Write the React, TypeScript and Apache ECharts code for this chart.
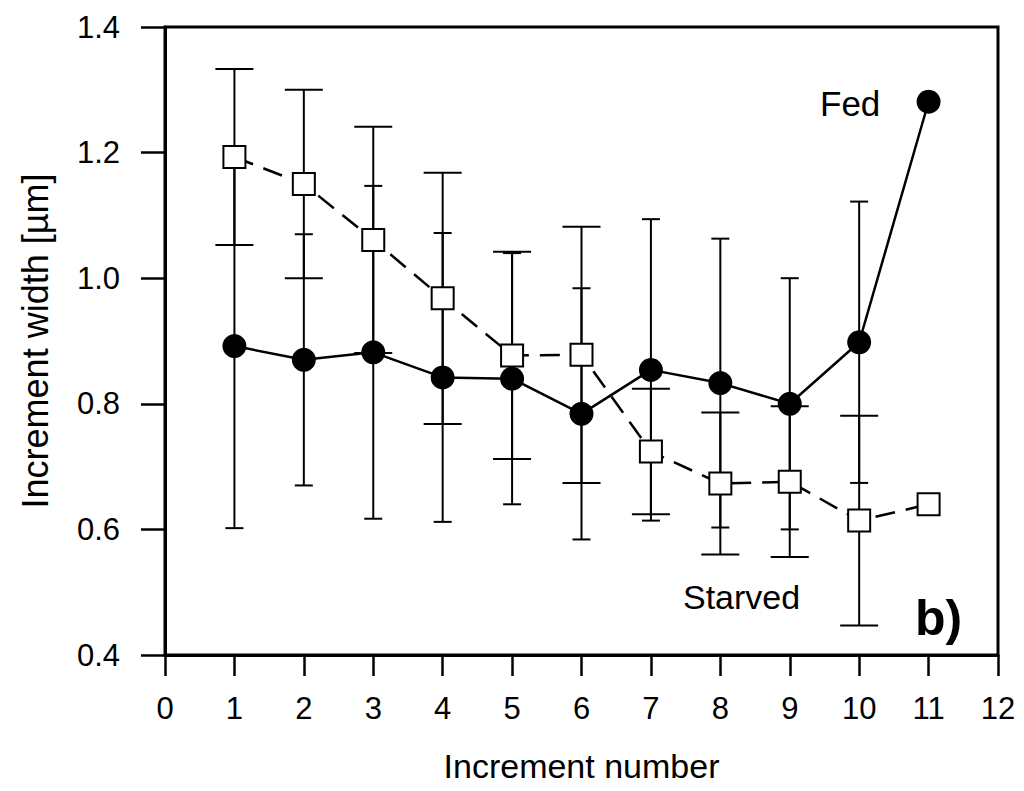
import React, { useEffect, useRef } from "react";
import * as echarts from "echarts";

const increments = [1, 2, 3, 4, 5, 6, 7, 8, 9, 10, 11];
const fedMean = [0.892, 0.870, 0.882, 0.842, 0.840, 0.784, 0.854, 0.833, 0.800, 0.898, 1.281];
const fedErr = [0.29, 0.20, 0.265, 0.23, 0.20, 0.20, 0.24, 0.23, 0.20, 0.224, null];
const starvedMean = [1.193, 1.150, 1.061, 0.968, 0.877, 0.878, 0.724, 0.673, 0.676, 0.614, 0.640];
const starvedErr = [0.14, 0.15, 0.18, 0.20, 0.165, 0.204, 0.10, 0.113, 0.12, 0.167, null];
const xTicks = [0, 1, 2, 3, 4, 5, 6, 7, 8, 9, 10, 11, 12];
const yTicks = [0.4, 0.6, 0.8, 1.0, 1.2, 1.4];

const FONT = "'Liberation Sans', Arial, sans-serif";

function errData(means: number[], errs: (number | null)[]) {
  const out: number[][] = [];
  means.forEach((m, i) => {
    const e = errs[i];
    if (e != null) out.push([increments[i], m - e, m + e]);
  });
  return out;
}

function errRender(capHalf: number) {
  return (params: any, api: any) => {
    const x = api.value(0);
    const lo = api.coord([x, api.value(1)]);
    const hi = api.coord([x, api.value(2)]);
    const style = { stroke: "#000", lineWidth: 2 };
    return {
      type: "group",
      children: [
        { type: "line", shape: { x1: lo[0], y1: lo[1], x2: hi[0], y2: hi[1] }, style },
        { type: "line", shape: { x1: hi[0] - capHalf, y1: hi[1], x2: hi[0] + capHalf, y2: hi[1] }, style },
        { type: "line", shape: { x1: lo[0] - capHalf, y1: lo[1], x2: lo[0] + capHalf, y2: lo[1] }, style },
      ],
    };
  };
}

export default function App() {
  const ref = useRef<HTMLDivElement>(null);
  useEffect(() => {
    if (!ref.current) return;
    const chart = echarts.init(ref.current, undefined, { renderer: "svg" });
    chart.setOption({
      animation: false,
      backgroundColor: "#fff",
      grid: {
        left: 165,
        right: 26,
        top: 27,
        bottom: 136,
        show: true,
        borderColor: "#000",
        borderWidth: 3,
        outerBoundsMode: "none",
      },
      xAxis: {
        type: "value",
        min: xTicks[0],
        max: xTicks[xTicks.length - 1],
        interval: 1,
        name: "Increment number",
        nameLocation: "middle",
        nameGap: 94,
        nameTextStyle: { fontFamily: FONT, fontSize: 34, color: "#000" },
        axisLine: { lineStyle: { color: "#000", width: 3 } },
        axisTick: { inside: false, length: 21, lineStyle: { color: "#000", width: 2.5 } },
        axisLabel: { fontFamily: FONT, fontSize: 31, color: "#000", margin: 38 },
        splitLine: { show: false },
      },
      yAxis: {
        type: "value",
        min: yTicks[0],
        max: yTicks[yTicks.length - 1],
        interval: 0.2,
        name: "Increment width [µm]",
        nameLocation: "middle",
        nameGap: 112,
        nameTextStyle: { fontFamily: FONT, fontSize: 36, color: "#000" },
        axisLine: { lineStyle: { color: "#000", width: 3 } },
        axisTick: { inside: false, length: 24, lineStyle: { color: "#000", width: 2.5 } },
        axisLabel: {
          fontFamily: FONT,
          fontSize: 31,
          color: "#000",
          margin: 45,
          formatter: (v: number) => v.toFixed(1),
        },
        splitLine: { show: false },
      },
      series: [
        {
          type: "custom",
          name: "starvedErr",
          renderItem: errRender(19),
          data: errData(starvedMean, starvedErr),
          z: 1,
          silent: true,
        },
        {
          type: "custom",
          name: "fedErr",
          renderItem: errRender(9),
          data: errData(fedMean, fedErr),
          z: 1,
          silent: true,
        },
        {
          type: "line",
          name: "Starved",
          data: increments.map((x, i) => [x, starvedMean[i]]),
          symbol: "rect",
          symbolSize: 22,
          showAllSymbol: true,
          lineStyle: { color: "#000", width: 2.5, type: [20, 11] },
          itemStyle: { color: "#fff", borderColor: "#000", borderWidth: 2 },
          z: 3,
        },
        {
          type: "line",
          name: "Fed",
          data: increments.map((x, i) => [x, fedMean[i]]),
          symbol: "circle",
          symbolSize: 24,
          showAllSymbol: true,
          lineStyle: { color: "#000", width: 2.5 },
          itemStyle: { color: "#000", borderColor: "#000", borderWidth: 0 },
          z: 4,
        },
      ],
      graphic: [
        {
          type: "text",
          left: 820,
          top: 86,
          style: { text: "Fed", fontFamily: FONT, fontSize: 35, fill: "#000" },
        },
        {
          type: "text",
          left: 683,
          top: 580,
          style: { text: "Starved", fontFamily: FONT, fontSize: 34, fill: "#000" },
        },
        {
          type: "text",
          left: 915,
          top: 593,
          style: { text: "b)", fontFamily: FONT, fontSize: 50, fontWeight: "bold", fill: "#000" },
        },
      ],
    });
    return () => chart.dispose();
  }, []);
  return (
    <div
      ref={ref}
      style={{ position: "fixed", left: 0, top: 0, width: 1024, height: 791, background: "#fff" }}
    />
  );
}
